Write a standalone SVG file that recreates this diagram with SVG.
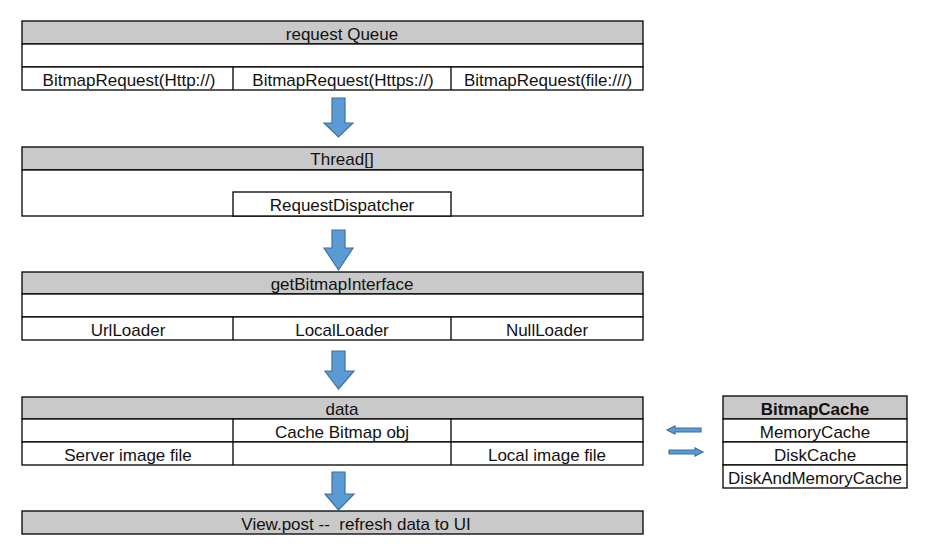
<svg xmlns="http://www.w3.org/2000/svg" width="934" height="558" viewBox="0 0 934 558">
<defs>
<style>
.bg{fill:#ffffff}
.hd{fill:#c9c9c9;stroke:#000;stroke-width:1.3}
.cell{fill:#ffffff;stroke:#000;stroke-width:1.3}
.ln{stroke:#000;stroke-width:1.3;fill:none}
text{font-family:"Liberation Sans",Arial,sans-serif;font-size:17px;fill:#111;text-anchor:middle}
.b{font-weight:bold}
.arr{fill:#5b9bd5;stroke:#41719c;stroke-width:1.2}
</style>
</defs>
<rect class="bg" x="0" y="0" width="934" height="558"/>

<g id="requestQueue">
<rect class="hd" x="22" y="21" width="621" height="23"/>
<rect class="cell" x="22" y="44" width="621" height="23"/>
<rect class="cell" x="22" y="67" width="621" height="23"/>
<line class="ln" x1="233" y1="67" x2="233" y2="90"/>
<line class="ln" x1="451" y1="67" x2="451" y2="90"/>
<text x="342" y="40">request Queue</text>
<text x="129" y="86">BitmapRequest(Http://)</text>
<text x="343" y="86">BitmapRequest(Https://)</text>
<text x="548" y="86">BitmapRequest(file:///)</text>
</g>

<g id="thread">
<rect class="hd" x="22" y="147" width="621" height="23"/>
<rect class="cell" x="22" y="170" width="621" height="46"/>
<rect class="cell" x="233" y="192" width="218" height="24"/>
<text x="342" y="165">Thread[]</text>
<text x="342" y="211">RequestDispatcher</text>
</g>

<g id="getBitmapInterface">
<rect class="hd" x="22" y="272" width="621" height="22"/>
<rect class="cell" x="22" y="294" width="621" height="23"/>
<rect class="cell" x="22" y="317" width="621" height="23"/>
<line class="ln" x1="233" y1="317" x2="233" y2="340"/>
<line class="ln" x1="451" y1="317" x2="451" y2="340"/>
<text x="342" y="290">getBitmapInterface</text>
<text x="128" y="336">UrlLoader</text>
<text x="342" y="336">LocalLoader</text>
<text x="547" y="336">NullLoader</text>
</g>

<g id="data">
<rect class="hd" x="22" y="397" width="621" height="22"/>
<rect class="cell" x="22" y="419" width="621" height="23"/>
<rect class="cell" x="22" y="442" width="621" height="23"/>
<line class="ln" x1="233" y1="419" x2="233" y2="465"/>
<line class="ln" x1="451" y1="419" x2="451" y2="465"/>
<text x="342" y="415">data</text>
<text x="342" y="438">Cache Bitmap obj</text>
<text x="128" y="461">Server image file</text>
<text x="547" y="461">Local image file</text>
</g>

<g id="viewPost">
<rect class="hd" x="22" y="511" width="621" height="23"/>
<text x="356" y="530" xml:space="preserve">View.post --  refresh data to UI</text>
</g>

<g id="bitmapCache">
<rect class="hd" x="723" y="396" width="184" height="23"/>
<rect class="cell" x="723" y="419" width="184" height="23"/>
<rect class="cell" x="723" y="442" width="184" height="23"/>
<rect class="cell" x="723" y="465" width="184" height="23"/>
<text class="b" x="815" y="415">BitmapCache</text>
<text x="815" y="438">MemoryCache</text>
<text x="815" y="461">DiskCache</text>
<text x="815" y="484">DiskAndMemoryCache</text>
</g>

<g id="connectors">
<path class="arr" d="M332,98 H345 V123 H353 L338.5,137 L324,123 H332 Z"/>
<path class="arr" d="M332,230 H345 V248 H353 L338.5,270 L324,248 H332 Z"/>
<path class="arr" d="M332,351 H345 V371 H354 L338.5,389 L325,371 H332 Z"/>
<path class="arr" d="M332,472 H345 V494 H354 L338.5,510 L325,494 H332 Z"/>
<path class="arr" d="M701,428 V432 H675 V434 L667,430 L675,426 V428 Z"/>
<path class="arr" d="M669,450 H695 V448 L703,452 L695,456 V454 H669 Z"/>
</g>
</svg>
